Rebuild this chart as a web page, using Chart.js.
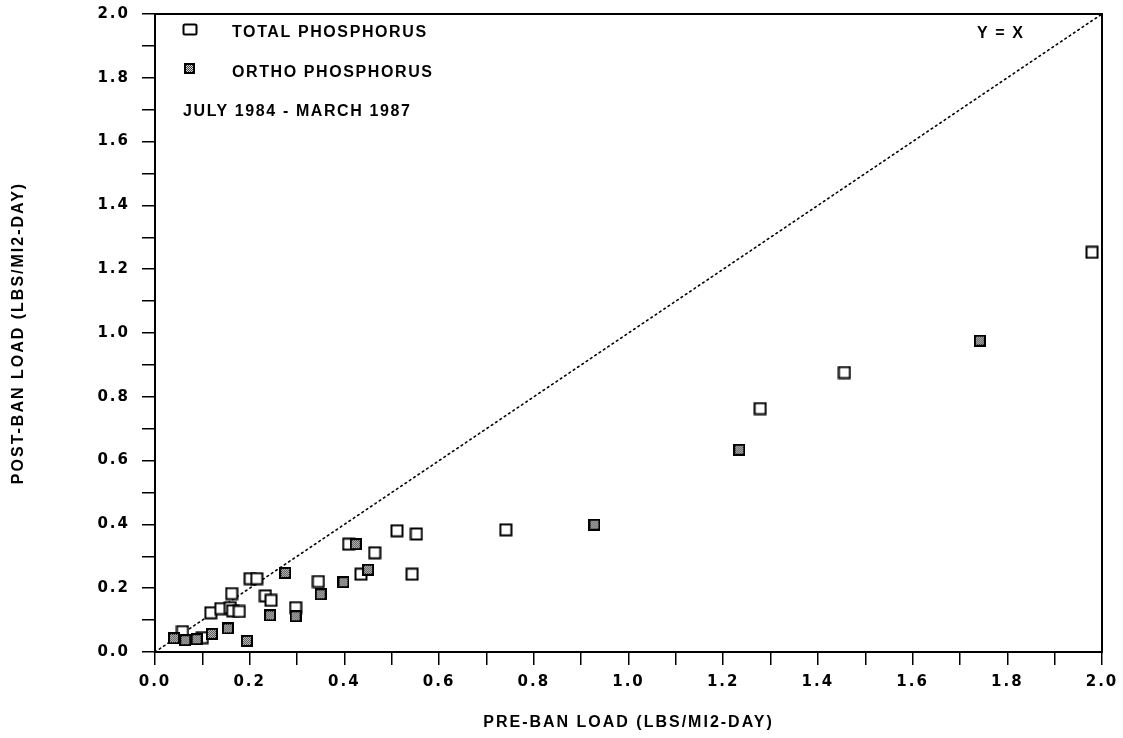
<!DOCTYPE html>
<html>
<head>
<meta charset="utf-8">
<script src="https://cdn.jsdelivr.net/npm/chart.js@4.4.1/dist/chart.umd.min.js"></script>
<style>
  html, body { margin: 0; padding: 0; background: #fff; }
  #wrap { width: 1123px; height: 738px; }
</style>
</head>
<body>
<div id="wrap"><canvas id="c" width="1123" height="738"></canvas></div>
<script>
// Pre-ban vs post-ban phosphorus loads (lbs/mi2-day)
const totalPre  = [0.058, 0.100, 0.118, 0.139, 0.159, 0.164, 0.178, 0.162, 0.201, 0.215, 0.233, 0.245,
                   0.297, 0.345, 0.409, 0.435, 0.464, 0.511, 0.552, 0.543, 0.741, 1.278, 1.456, 1.979];
const totalPost = [0.064, 0.045, 0.123, 0.136, 0.139, 0.129, 0.127, 0.183, 0.230, 0.230, 0.176, 0.162,
                   0.139, 0.221, 0.338, 0.244, 0.311, 0.380, 0.370, 0.244, 0.383, 0.763, 0.876, 1.253];
const orthoPre  = [0.040, 0.064, 0.088, 0.120, 0.154, 0.194, 0.243, 0.297, 0.275, 0.350, 0.398, 0.424,
                   0.450, 0.928, 1.234, 1.742];
const orthoPost = [0.043, 0.037, 0.040, 0.057, 0.074, 0.035, 0.115, 0.112, 0.248, 0.181, 0.219, 0.338,
                   0.258, 0.399, 0.634, 0.976];
// Reference line Y = X
const refLine = [0, 2];

const seriesNames = ['TOTAL PHOSPHORUS', 'ORTHO PHOSPHORUS'];
const periodLabel = 'JULY 1984 - MARCH 1987';
const refLabel = 'Y = X';
const xTitle = 'PRE-BAN LOAD (LBS/MI2-DAY)';
const yTitle = 'POST-BAN LOAD (LBS/MI2-DAY)';

const toPoints = (xs, ys) => xs.map((x, i) => ({ x: x, y: ys[i] }));

// Marker images: open square and stippled square
function openSquare(size) {
  const c = document.createElement('canvas');
  c.width = c.height = size;
  const g = c.getContext('2d');
  g.fillStyle = '#fff';
  g.fillRect(1, 1, size - 2, size - 2);
  g.strokeStyle = '#000';
  g.lineWidth = 2;
  g.strokeRect(1.5, 1.5, size - 3, size - 3);
  return c;
}
function stippleSquare(size) {
  const c = document.createElement('canvas');
  c.width = c.height = size;
  const g = c.getContext('2d');
  g.fillStyle = '#dcdcdc';
  g.fillRect(0, 0, size, size);
  g.fillStyle = '#3a3a3a';
  for (let i = 2; i < size - 2; i++) {
    for (let j = 2; j < size - 2; j++) {
      if ((i + j) % 2 === 0) g.fillRect(i, j, 1, 1);
    }
  }
  g.strokeStyle = '#000';
  g.lineWidth = 2;
  g.strokeRect(1, 1, size - 2, size - 2);
  return c;
}
const openMark = openSquare(14);
const orthoMark = stippleSquare(12);

const FONT = "'Liberation Sans', Arial, sans-serif";
const TICKFONT = "'DejaVu Sans', sans-serif";

const frameAndText = {
  id: 'frameAndText',
  beforeDraw(chart) {
    chart.ctx.letterSpacing = '2px';
  },
  beforeDatasetsDraw(chart) {
    chart.ctx.letterSpacing = '0px';
  },
  afterDraw(chart) {
    const ctx = chart.ctx;
    const a = chart.chartArea;
    ctx.save();
    ctx.letterSpacing = '0px';
    ctx.strokeStyle = '#000';
    ctx.lineWidth = 2;
    ctx.strokeRect(a.left, a.top, a.right - a.left, a.bottom - a.top);

    // legend keys
    ctx.fillStyle = '#fff';
    ctx.lineWidth = 2;
    ctx.beginPath();
    ctx.roundRect(183.5, 24.5, 13, 10, 1.5);
    ctx.fill();
    ctx.stroke();
    ctx.drawImage(stippleSquare(11), 184, 63);

    ctx.fillStyle = '#000';
    ctx.font = 'bold 16px ' + FONT;
    ctx.letterSpacing = '1.6px';
    ctx.textBaseline = 'middle';
    ctx.textAlign = 'left';
    ctx.fillText(seriesNames[0], 232, 33);
    ctx.fillText(seriesNames[1], 232, 73);
    ctx.fillText(periodLabel, 183, 112);
    ctx.fillText(refLabel, 977, 34);
    ctx.restore();
  }
};

new Chart(document.getElementById('c'), {
  data: {
    datasets: [
      {
        type: 'scatter',
        label: seriesNames[1],
        data: toPoints(orthoPre, orthoPost),
        pointStyle: orthoMark,
        order: 0
      },
      {
        type: 'scatter',
        label: seriesNames[0],
        data: toPoints(totalPre, totalPost),
        pointStyle: openMark,
        order: 1
      },
      {
        type: 'line',
        label: refLabel,
        data: toPoints(refLine, refLine),
        borderColor: '#000',
        borderWidth: 1.6,
        borderDash: [1.6, 3.6],
        borderCapStyle: 'round',
        pointRadius: 0,
        fill: false,
        order: 2
      }
    ]
  },
  options: {
    responsive: false,
    animation: false,
    events: [],
    layout: { padding: { top: 14, right: 21, left: 0, bottom: 0 } },
    plugins: { legend: { display: false }, tooltip: { enabled: false } },
    scales: {
      x: {
        type: 'linear',
        min: 0, max: 2,
        ticks: {
          stepSize: 0.1,
          autoSkip: false,
          maxRotation: 0,
          padding: 8,
          color: '#000',
          font: { family: TICKFONT, size: 15, weight: 'bold' },
          callback: (v, i) => (i % 2 === 0 ? v.toFixed(1) : '')
        },
        grid: { drawOnChartArea: false, drawTicks: true, tickLength: 13, color: '#000', lineWidth: 1.5 },
        border: { display: true, color: '#000', width: 2 },
        title: {
          display: true, text: xTitle, color: '#000',
          font: { family: FONT, size: 16, weight: 'bold' },
          padding: { top: 0, bottom: 6 }
        },
        afterFit: (s) => { s.height = 86; s.paddingLeft = 0; s.paddingRight = 0; }
      },
      y: {
        type: 'linear',
        min: 0, max: 2,
        ticks: {
          stepSize: 0.1,
          autoSkip: false,
          padding: 12,
          color: '#000',
          font: { family: TICKFONT, size: 15, weight: 'bold' },
          callback: (v, i) => (i % 2 === 0 ? v.toFixed(1) : '')
        },
        grid: { drawOnChartArea: false, drawTicks: true, tickLength: 13, color: '#000', lineWidth: 1.5 },
        border: { display: true, color: '#000', width: 2 },
        title: {
          display: true, text: yTitle, color: '#000',
          font: { family: FONT, size: 16, weight: 'bold' },
          padding: { top: 9, bottom: 0 }
        },
        afterFit: (s) => { s.width = 155; s.paddingTop = 0; s.paddingBottom = 0; }
      }
    }
  },
  plugins: [frameAndText]
});
</script>
</body>
</html>
